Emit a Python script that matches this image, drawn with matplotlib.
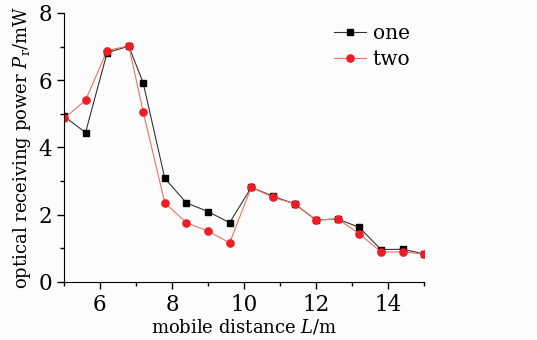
import matplotlib.pyplot as plt
from matplotlib.ticker import MultipleLocator

plt.rcParams['font.family'] = ['DejaVu Serif']
plt.rcParams['mathtext.fontset'] = 'dejavuserif'

# 数据
distance = [5.0, 5.6, 6.2, 6.8, 7.2, 7.8, 8.4, 9.0, 9.6, 10.2,
            10.8, 11.4, 12.0, 12.6, 13.2, 13.8, 14.4, 15.0]
power_one = [4.93, 4.44, 6.82, 7.01, 5.92, 3.08, 2.35, 2.09, 1.76, 2.81,
             2.55, 2.32, 1.84, 1.87, 1.62, 0.96, 0.97, 0.83]
power_two = [4.86, 5.40, 6.88, 7.02, 5.06, 2.35, 1.76, 1.51, 1.16, 2.81,
             2.52, 2.32, 1.84, 1.87, 1.43, 0.89, 0.89, 0.83]

fig = plt.figure(figsize=(5.37, 3.40), dpi=100, facecolor='#fcfcfc')
ax = fig.add_axes([0.119, 0.171, 0.671, 0.791])
ax.set_facecolor('#fcfcfc')

ax.plot(distance, power_one, color='#333333', lw=0.8, marker='s', ms=4.2,
        mfc='black', mec='black', label='one')
ax.plot(distance, power_two, color='#f07060', lw=0.8, marker='o', ms=5.2,
        mfc='#ee1c24', mec='#ee1c24', label='two')

ax.set_xlim(5, 15)
ax.set_ylim(0, 8)
ax.xaxis.set_major_locator(MultipleLocator(2))
ax.xaxis.set_minor_locator(MultipleLocator(1))
ax.yaxis.set_major_locator(MultipleLocator(2))
ax.yaxis.set_minor_locator(MultipleLocator(1))
ax.spines['top'].set_visible(False)
ax.spines['right'].set_visible(False)
ax.tick_params(which='major', direction='out', length=5, width=1, labelsize=15.5)
ax.tick_params(which='minor', direction='out', length=3, width=1)

ax.set_xlabel('mobile distance $L$/m', fontsize=13, labelpad=1)
ax.set_ylabel('optical receiving power $P_{\\mathrm{r}}$/mW', fontsize=13, labelpad=4)

ax.legend(loc='upper left', bbox_to_anchor=(0.7, 1.025), frameon=False,
          fontsize=14.5, handlelength=1.6, handletextpad=0.3, labelspacing=0.35)

plt.savefig('out.png', dpi=100, facecolor=fig.get_facecolor())
